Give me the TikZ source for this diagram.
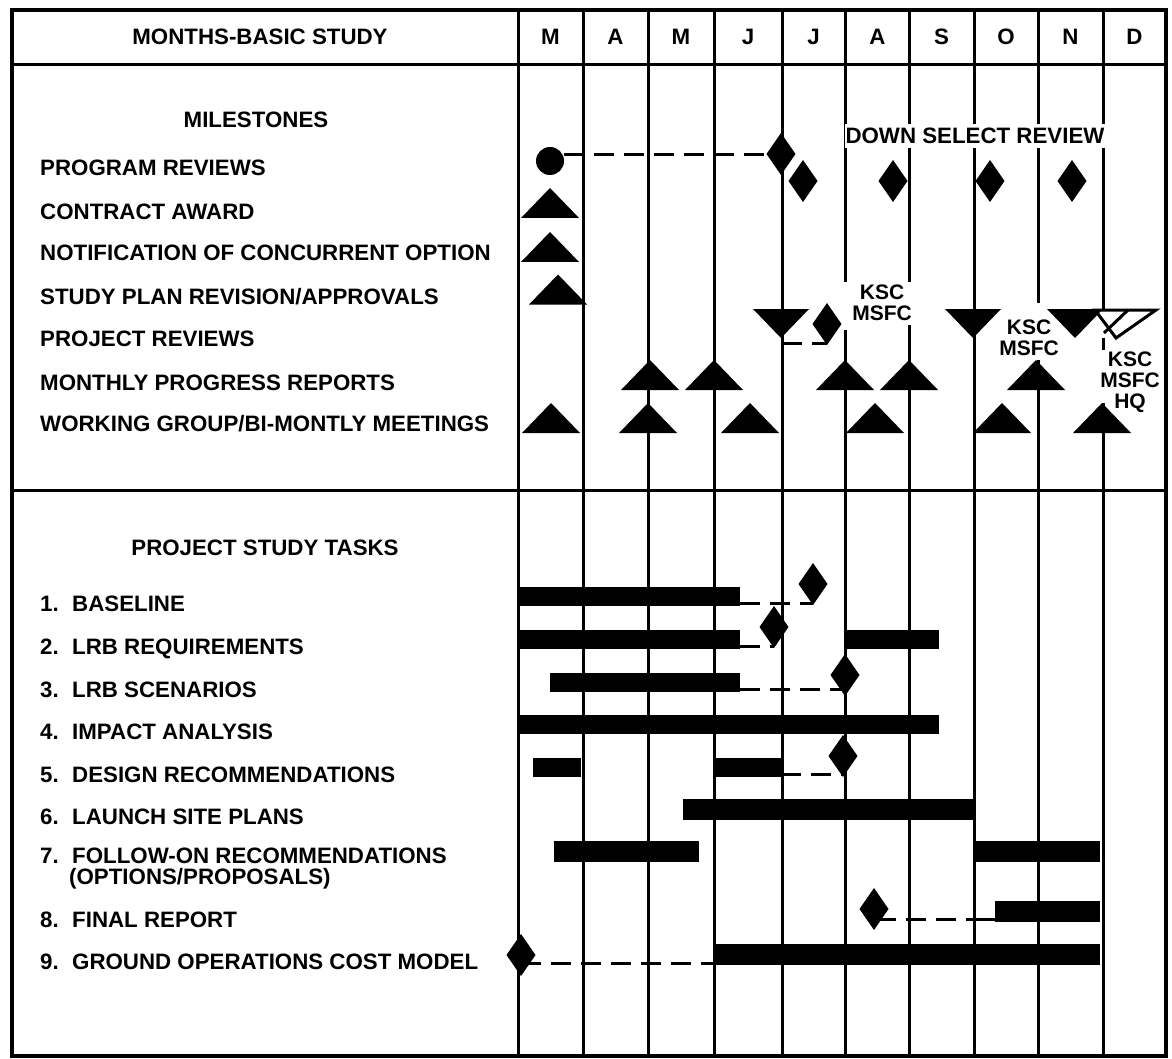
\documentclass[tikz,border=0pt]{standalone}
\usepackage{fontspec}
\setmainfont{Liberation Sans}
\begin{document}
\begin{tikzpicture}[x=1pt,y=-1pt,
  font=\fontsize{22.3}{22.3}\selectfont\bfseries,
  lab/.style={anchor=west,inner sep=0pt,text height=16pt,text depth=0pt},
  ctr/.style={inner sep=0pt,text height=16pt,text depth=0pt},
  gridline/.style={line width=3pt},
  framebox/.style={line width=4pt},
  barfill/.style={fill=black},
  dashline/.style={line width=3pt,dash pattern=on 20pt off 10pt},
  solidline/.style={line width=3pt},
  dia/.pic={\fill[line join=round] (0,-21)--(14.5,0)--(0,21)--(-14.5,0)--cycle;},
  triup/.pic={\fill (-29,15)--(29,15)--(0,-15)--cycle;},
  tridn/.pic={\fill (-28,-14.5)--(28,-14.5)--(0,14.5)--cycle;},
  klab/.style={inner sep=0pt,align=center,font=\fontsize{21}{21}\selectfont\bfseries},
]
\useasboundingbox (0,0) rectangle (1172,1059);
\fill[white] (0,0) rectangle (1172,1059);

% ---------- grid ----------
\foreach \gx in {518,583,648,714,782,974} {\draw[gridline] (\gx,10) -- (\gx,1056);}
\draw[gridline] (845,10) -- (845,282) (845,330) -- (845,1056);
\draw[gridline] (909,10) -- (909,282) (909,325) -- (909,1056);
\draw[gridline] (1038,10) -- (1038,303) (1038,360) -- (1038,1056);
\draw[gridline] (1103,10) -- (1103,309) (1103,338) -- (1103,350) (1103,403) -- (1103,1056);
\draw[gridline] (12,65) -- (1166,65);
\draw[gridline] (12,490) -- (1166,490);
\draw[framebox] (12,10) rectangle (1166,1056);

% ---------- header ----------
\node[ctr] (hdr) at (260,37) {MONTHS-BASIC STUDY};
\node[ctr] (m1) at (550.5,37) {M};
\node[ctr] (m2) at (615.5,37) {A};
\node[ctr] (m3) at (681,37) {M};
\node[ctr] (m4) at (748,37) {J};
\node[ctr] (m5) at (813.5,37) {J};
\node[ctr] (m6) at (877.5,37) {A};
\node[ctr] (m7) at (941.5,37) {S};
\node[ctr] (m8) at (1006,37) {O};
\node[ctr] (m9) at (1070.5,37) {N};
\node[ctr] (m10) at (1134.5,37) {D};

% ---------- milestone labels ----------
\node[ctr] (msh) at (256,120) {MILESTONES};
\node[lab] (l1) at (40,168) {PROGRAM REVIEWS};
\node[lab] (l2) at (40,212) {CONTRACT AWARD};
\node[lab] (l3) at (40,253) {NOTIFICATION OF CONCURRENT OPTION};
\node[lab] (l4) at (40,297) {STUDY PLAN REVISION/APPROVALS};
\node[lab] (l5) at (40,338) {PROJECT REVIEWS};
\node[lab] (l6) at (40,382) {MONTHLY PROGRESS REPORTS};
\node[lab] (l7) at (40,423) {WORKING GROUP/BI-MONTLY MEETINGS};

\node[ctr,fill=white,inner xsep=1pt,inner ysep=4pt] (dsr) at (975,136) {DOWN SELECT REVIEW};
\node[klab] (k1) at (882,303) {KSC\\MSFC};
\node[klab] (k2) at (1029,338) {KSC\\MSFC};
\node[klab] (k3) at (1130,382) {KSC\\MSFC\\HQ};

% program reviews
\fill (550,161) circle (14pt);
\coordinate (pc) at (564,155);
\coordinate (pd) at (767,155);
\draw[dashline] (pc) -- (pd);
\pic at (781,154) {dia};
\pic at (803,181) {dia};
\pic at (893,181) {dia};
\pic at (990,181) {dia};
\pic at (1072,181) {dia};
% contract award etc
\pic at (550,203) {triup};
\pic at (550,247) {triup};
\pic at (558,289.5) {triup};
% project reviews
\pic at (781,323.5) {tridn};
\pic at (973,323.5) {tridn};
\pic at (1075,323.5) {tridn};
\draw[line width=3pt,line join=miter] (1095,310) -- (1156,310) -- (1116,338) -- cycle;
\draw[line width=3pt] (1128,310) -- (1104,333);
\pic at (827,324) {dia};
\coordinate (pr1) at (782,343);
\coordinate (pr2) at (827,343);
\draw[dashline] (pr1) -- (pr2);
% monthly progress
\foreach \tx in {650,714,845,909,1036} {\pic at (\tx,375) {triup};}
% working group
\foreach \tx in {551,648,750,875,1002,1102} {\pic at (\tx,418) {triup};}

% ---------- tasks ----------
\node[ctr] (tsh) at (265,547) {PROJECT STUDY TASKS};
\node[lab] (t1) at (40,603) {\makebox[32pt][l]{1.}BASELINE};
\node[lab] (t2) at (40,646) {\makebox[32pt][l]{2.}LRB REQUIREMENTS};
\node[lab] (t3) at (40,689) {\makebox[32pt][l]{3.}LRB SCENARIOS};
\node[lab] (t4) at (40,731) {\makebox[32pt][l]{4.}IMPACT ANALYSIS};
\node[lab] (t5) at (40,774) {\makebox[32pt][l]{5.}DESIGN RECOMMENDATIONS};
\node[lab] (t6) at (40,816) {\makebox[32pt][l]{6.}LAUNCH SITE PLANS};
\node[lab] (t7) at (40,855) {\makebox[32pt][l]{7.}FOLLOW-ON RECOMMENDATIONS};
\node[lab] (t7b) at (69,876) {(OPTIONS/PROPOSALS)};
\node[lab] (t8) at (40,919) {\makebox[32pt][l]{8.}FINAL REPORT};
\node[lab] (t9) at (40,961) {\makebox[32pt][l]{9.}GROUND OPERATIONS COST MODEL};

% bars
\fill[barfill] (518,586.5) rectangle (740,605.5);
\fill[barfill] (518,629.5) rectangle (740,648.5);
\fill[barfill] (845,629.5) rectangle (939,648.5);
\fill[barfill] (550,672.5) rectangle (740,691.5);
\fill[barfill] (518,714.5) rectangle (939,733.5);
\fill[barfill] (533,757.5) rectangle (581,776.5);
\fill[barfill] (714,757.5) rectangle (781,776.5);
\fill[barfill] (683,799) rectangle (974,820);
\fill[barfill] (554,841) rectangle (699,862);
\fill[barfill] (976,841) rectangle (1100,862);
\fill[barfill] (995,901) rectangle (1100,922);
\fill[barfill] (714,943.5) rectangle (1100,964.5);

% task milestones and dashes
\pic at (813,584) {dia};
\pic at (774,627) {dia};
\pic at (845,675) {dia};
\pic at (843,756) {dia};
\pic at (874,909) {dia};
\pic at (521,955) {dia};
\coordinate (a1) at (740,603); \coordinate (b1) at (813,603);
\draw[dashline] (a1) -- (b1);
\coordinate (a2) at (740,646); \coordinate (b2) at (774,646);
\draw[dashline] (a2) -- (b2);
\coordinate (a3) at (740,689); \coordinate (b3) at (845,689);
\draw[dashline] (a3) -- (b3);
\coordinate (a5) at (781,774); \coordinate (b5) at (843,774);
\draw[dashline] (a5) -- (b5);
\coordinate (a8) at (876,919); \coordinate (b8) at (976,919); \coordinate (c8) at (995,919);
\draw[dashline] (a8) -- (b8);
\draw[solidline] (b8) -- (c8);
\coordinate (a9) at (521,963); \coordinate (b9) at (714,963);
\draw[dashline] (a9) -- (b9);
\end{tikzpicture}
\end{document}
